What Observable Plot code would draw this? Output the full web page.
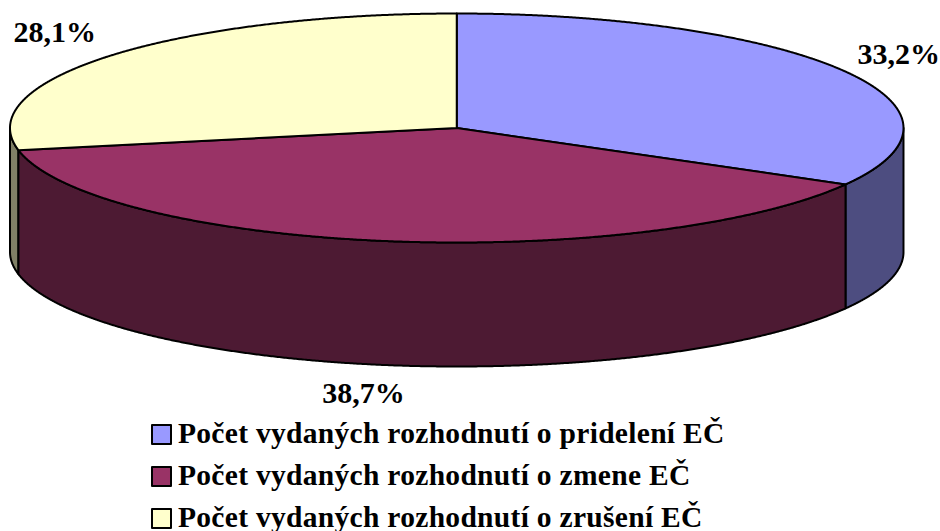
<!DOCTYPE html>
<html lang="sk">
<head>
<meta charset="utf-8">
<script src="https://cdn.jsdelivr.net/npm/d3@7"></script>
<script src="https://cdn.jsdelivr.net/npm/@observablehq/plot@0.6"></script>
<style>
html,body{margin:0;padding:0;background:#fff;width:940px;height:531px;overflow:hidden}
#chart svg{display:block;overflow:visible;background:transparent}
#legend{position:absolute;left:151px;top:413px;font:bold 29.5px "Liberation Serif",serif;color:#000}
.row{display:flex;align-items:center;height:41.7px;white-space:nowrap;letter-spacing:.3px}
.sw{width:17px;height:17px;border:2px solid #000;margin-right:6px;border-radius:1px;position:relative;top:1px}
</style>
</head>
<body>
<div id="chart"></div>
<div id="legend"></div>
<script>
const categories = ["Počet vydaných rozhodnutí o pridelení EČ","Počet vydaných rozhodnutí o zmene EČ","Počet vydaných rozhodnutí o zrušení EČ"];
const shares = [33.2, 38.7, 28.1];
const topColors = ["#9999FF","#993366","#FFFFCC"];
const sideColors = ["#4D4D80","#4D1A33","#808066"];
const labelDx = [56, -22, -57];
const labelDy = [-16, 28, -23];

const depth = 124 / 114.5;          // rim height in units of the vertical radius
const TAU = Math.PI * 2;
const total = d3.sum(shares);
let acc = 0;
const slices = shares.map((v, i) => {
  const a0 = acc / total * TAU; acc += v; const a1 = acc / total * TAU;
  return {i, v, a0, a1, mid: (a0 + a1) / 2};
});
const arc = (a0, a1, off = 0) => {
  const n = Math.max(2, Math.ceil(Math.abs(a1 - a0) / 0.004));
  return d3.range(n + 1).map(k => {
    const t = a0 + (a1 - a0) * k / n;
    return {x: Math.sin(t), y: Math.cos(t) - off};
  });
};
const topFace = s => [{x: 0, y: 0}, ...arc(s.a0, s.a1), {x: 0, y: 0}];
const sideFace = (a0, a1) => {
  const up = arc(a0, a1), low = arc(a1, a0, depth);
  return [...up, ...low, up[0]];
};
const front = [Math.PI / 2, Math.PI * 3 / 2];
const sides = [2, 0, 1].map(i => {
  const s = slices[i];
  const a0 = Math.max(s.a0, front[0]), a1 = Math.min(s.a1, front[1]);
  return a1 > a0 ? {i, pts: sideFace(a0, a1)} : null;
}).filter(Boolean);

const line = (pts, fill) => Plot.line(pts, {x: "x", y: "y", fill, stroke: "#000", strokeWidth: 2, strokeLinejoin: "round", curve: "linear"});

const plot = Plot.plot({
  width: 940, height: 413,
  margin: 0,
  x: {domain: [-1, 1], range: [9.5, 903], axis: null},
  y: {domain: [-1, 1], range: [242, 13], axis: null},
  marks: [
    ...sides.map(s => line(s.pts, sideColors[s.i])),
    ...slices.map(s => line(topFace(s), topColors[s.i])),
    ...slices.map(s => {
      const low = Math.cos(s.mid) < 0 && Math.abs(Math.sin(s.mid)) < 0.5;
      return Plot.text([s], {
        x: d => Math.sin(d.mid),
        y: d => Math.cos(d.mid) - (low ? depth : 0),
        text: d => d.v.toFixed(1).replace(".", ",") + "%",
        dx: labelDx[s.i], dy: labelDy[s.i],
        fontFamily: "Liberation Serif", fontWeight: "bold", fontSize: 30,
        fill: "#000", textAnchor: "middle"
      });
    })
  ]
});
document.getElementById("chart").append(plot);

const legend = d3.select("#legend");
categories.forEach((c, i) => {
  const r = legend.append("div").attr("class", "row");
  r.append("div").attr("class", "sw").style("background", topColors[i]);
  r.append("span").text(c);
});
</script>
</body>
</html>
